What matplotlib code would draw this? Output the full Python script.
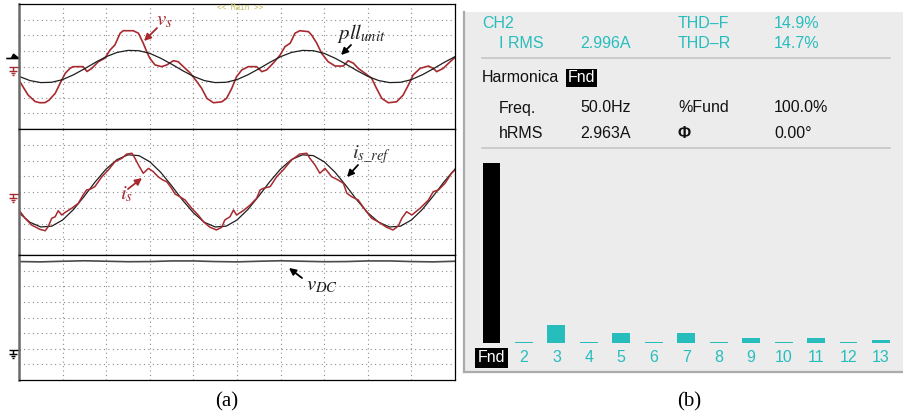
import matplotlib.pyplot as plt
import numpy as np
from matplotlib.path import Path
from matplotlib.patches import FancyArrowPatch

# ---- data: scope traces (time and amplitude in screen divisions) ----
grid_t = np.arange(0, 10.01, 0.25)
pll_unit = [-0.63, -0.90, -1.03, -1.01, -0.84, -0.53, -0.15, 0.26, 0.63, 0.90, 1.03, 1.01, 0.84, 0.53, 0.15, -0.26,
            -0.63, -0.90, -1.03, -1.01, -0.84, -0.53, -0.15, 0.26, 0.63, 0.90, 1.03, 1.01, 0.84, 0.53, 0.15, -0.26,
            -0.63, -0.90, -1.03, -1.01, -0.84, -0.53, -0.15, 0.26, 0.63]
is_ref = [-1.32, -1.92, -2.22, -2.17, -1.78, -1.11, -0.26, 0.65, 1.46, 2.06, 2.36, 2.31, 1.92, 1.25, 0.40, -0.51,
          -1.32, -1.92, -2.22, -2.17, -1.78, -1.11, -0.26, 0.65, 1.46, 2.06, 2.36, 2.31, 1.92, 1.25, 0.40, -0.51,
          -1.32, -1.92, -2.22, -2.17, -1.78, -1.11, -0.26, 0.65, 1.46]

vs_t = [0.00, 0.11, 0.21, 0.37, 0.48, 0.60, 0.69, 0.83, 0.98, 1.06,
        1.17, 1.24, 1.47, 1.56, 1.67, 1.82, 1.97, 2.09, 2.20, 2.32,
        2.39, 2.62, 2.74, 2.85, 2.93, 3.00, 3.12, 3.27, 3.39, 3.54,
        3.65, 3.77, 3.92, 4.08, 4.19, 4.31, 4.46, 4.65, 4.76, 4.88,
        4.99, 5.11, 5.26, 5.45, 5.57, 5.68, 5.83, 5.99, 6.10, 6.22,
        6.33, 6.44, 6.64, 6.71, 6.83, 6.94, 7.09, 7.25, 7.44, 7.55,
        7.67, 7.78, 7.94, 8.09, 8.20, 8.32, 8.47, 8.66, 8.81, 8.93,
        9.04, 9.20, 9.39, 9.50, 9.58, 9.73, 9.89, 10.00]
vs_v = [-0.87, -1.38, -1.83, -2.24, -2.32, -2.31, -2.15, -1.72, -0.87, -0.44,
        -0.12, -0.01, -0.01, -0.32, -0.12, 0.31, 0.53, 1.06, 1.38, 2.13,
        2.29, 2.29, 2.13, 1.49, 0.95, 0.53, 0.10, -0.01, 0.10, 0.37,
        0.31, -0.01, -0.40, -0.97, -1.40, -2.04, -2.32, -2.26, -2.04, -1.40,
        -0.65, -0.22, -0.01, -0.01, -0.33, -0.22, 0.21, 0.74, 1.27, 1.49,
        2.13, 2.29, 2.23, 2.02, 1.49, 0.85, 0.31, 0.03, 0.03, 0.37,
        0.21, -0.12, -0.44, -0.76, -1.40, -2.04, -2.32, -2.26, -1.83, -1.19,
        -0.54, -0.12, 0.03, -0.12, -0.33, -0.12, 0.31, 0.58]

is_t = [0.00, 0.14, 0.29, 0.48, 0.60, 0.67, 0.75, 0.83, 0.90, 0.98,
        1.05, 1.21, 1.36, 1.47, 1.55, 1.63, 1.74, 1.90, 2.05, 2.20,
        2.36, 2.47, 2.59, 2.66, 2.74, 2.85, 2.97, 3.08, 3.19, 3.30,
        3.39, 3.50, 3.58, 3.69, 3.81, 3.96, 4.11, 4.23, 4.38, 4.53,
        4.65, 4.72, 4.84, 4.92, 4.99, 5.14, 5.30, 5.45, 5.53, 5.60,
        5.76, 5.91, 6.06, 6.25, 6.44, 6.60, 6.67, 6.79, 6.90, 7.02,
        7.17, 7.32, 7.44, 7.52, 7.63, 7.78, 7.94, 8.09, 8.24, 8.43,
        8.58, 8.70, 8.78, 8.89, 9.01, 9.20, 9.39, 9.50, 9.62, 9.77,
        9.92, 10.00]
is_v = [-1.14, -1.67, -2.10, -2.37, -2.46, -2.20, -1.67, -1.57, -1.19, -1.46,
        -1.31, -1.03, -0.72, -0.19, 0.13, 0.17, 0.34, 0.97, 1.40, 1.92,
        2.14, 2.41, 2.46, 2.14, 1.71, 1.19, 1.50, 1.29, 0.97, 0.76,
        0.65, 0.23, -0.13, -0.30, -0.51, -1.03, -1.46, -1.89, -2.24, -2.41,
        -2.24, -1.78, -1.57, -1.14, -1.46, -1.19, -0.83, -0.40, 0.13, 0.23,
        0.34, 0.97, 1.40, 2.03, 2.41, 2.46, 2.14, 1.71, 1.19, 1.50,
        0.97, 0.76, 0.55, -0.08, -0.30, -0.51, -1.14, -1.67, -1.89, -2.24,
        -2.41, -2.16, -1.67, -1.25, -1.46, -1.03, -0.51, 0.02, 0.13, 0.55,
        1.19, 1.40]

vdc_t = np.arange(0, 10.01, 0.5)
vdc_v = [3.58, 3.56, 3.60, 3.63, 3.60, 3.57, 3.58, 3.62, 3.62, 3.58, 3.56,
         3.60, 3.63, 3.60, 3.57, 3.58, 3.62, 3.62, 3.58, 3.56, 3.60]

# ---- data: harmonic analyser ----
harm_labels = ['Fnd', '2', '3', '4', '5', '6', '7', '8', '9', '10', '11', '12', '13']
harm_pct = [100, 0.7, 10.0, 0.7, 5.7, 0.7, 5.7, 0.7, 2.6, 0.7, 2.8, 0.7, 1.7]
info_rows = [
    ['CH2', '', 'THD–F', '14.9%'],
    ['I RMS', '2.996A', 'THD–R', '14.7%'],
]
fund_rows = [
    ['Freq.', '50.0Hz', '%Fund', '100.0%'],
    ['hRMS', '2.963A', 'Φ', '0.00°'],
]

W, H = 904, 416
plt.rcParams['mathtext.fontset'] = 'stix'
fig = plt.figure(figsize=(W / 100, H / 100), dpi=100)


def fx(px):
    return px / W


def fy(py):
    return 1 - py / H


RED = '#A82A30'
TEAL = '#28BDBD'

# ---------------- (a) oscilloscope ----------------
panels = [(4, 129), (129, 255), (255, 380)]
axes = []
for top, bot in panels:
    ax = fig.add_axes([fx(19), fy(bot), fx(455) - fx(19), fy(top) - fy(bot)])
    ax.set_xlim(0, 10)
    ax.set_ylim(-4, 4)
    ax.set_xticks(np.arange(1, 10))
    ax.set_yticks(np.arange(-3, 4))
    ax.grid(True, color='#8c8c8c', linestyle=(0, (1, 3)), linewidth=0.8)
    ax.tick_params(length=0, labelbottom=False, labelleft=False)
    for s in ax.spines.values():
        s.set_linewidth(0.9)
        s.set_color('black')
    ax.spines['left'].set_color('#6a6a6a')
    ax.spines['left'].set_linewidth(1.8)
    axes.append(ax)

ax_v, ax_i, ax_dc = axes
ax_v.plot(vs_t, vs_v, color=RED, lw=1.2)
ax_v.plot(grid_t, pll_unit, color='#1e1e1e', lw=0.9)
ax_i.plot(grid_t, is_ref, color='#1e1e1e', lw=0.9)
ax_i.plot(is_t, is_v, color=RED, lw=1.1)
ax_dc.plot(vdc_t, vdc_v, color='#4a4a4a', lw=1.2)

# ground markers
gnd = Path([(-4, 0), (7, 0), (0, 0), (0, -4), (-4, -4), (4, -4), (-2.6, -6), (2.6, -6), (-1.2, -8), (1.2, -8)],
           [Path.MOVETO, Path.LINETO, Path.MOVETO, Path.LINETO, Path.MOVETO, Path.LINETO,
            Path.MOVETO, Path.LINETO, Path.MOVETO, Path.LINETO])
for ax, lvl, col in [(ax_v, 0.0, RED), (ax_i, -0.1, RED), (ax_dc, -2.1, 'black')]:
    ax.plot([-0.14], [lvl], marker=gnd, markersize=11, color=col, mew=1.0, fillstyle='none',
            linestyle='none', clip_on=False)
trig = Path([(-6, 0), (6, 0), (6, 0), (1, 4), (-1, 0)],
            [Path.MOVETO, Path.LINETO, Path.MOVETO, Path.LINETO, Path.LINETO])
ax_v.plot([-0.17], [0.52], marker=trig, markersize=9, color='black', mew=1.2, linestyle='none', clip_on=False)

fig.text(fx(240), fy(8), '<< Main >>', color='#C8C060', family='DejaVu Sans Mono', fontsize=5.5,
         ha='center', va='center')


def label(px, py, s, color, size=15):
    fig.text(fx(px), fy(py), s, color=color, fontsize=size, ha='left', va='baseline')


def arrow(x0, y0, x1, y1, color):
    fig.add_artist(FancyArrowPatch((fx(x0), fy(y0)), (fx(x1), fy(y1)), transform=fig.transFigure,
                                   arrowstyle='-|>', color=color, lw=1.3, mutation_scale=10,
                                   shrinkA=0, shrinkB=0))


label(156, 25, r'$v_s$', RED)
arrow(157, 28, 144, 41, RED)
label(337, 39, r'$pll_{unit}$', '#1e1e1e')
arrow(351, 45, 341, 55, 'black')
label(352, 158, r'$i_{s\_ref}$', '#333333')
arrow(358, 165, 347, 177, 'black')
label(120, 199, r'$i_s$', RED)
arrow(128, 189, 142, 178, RED)
label(306, 290, r'$v_{DC}$', '#1e1e1e')
arrow(302, 278, 289, 268, 'black')

fig.text(fx(227), fy(402), '(a)', family='Liberation Serif', fontsize=15, ha='center', va='center')

# ---------------- (b) harmonic analyser ----------------
ax_bg = fig.add_axes([fx(464), fy(372), fx(904) - fx(464), fy(12) - fy(372)])
ax_bg.set_facecolor('#ECECEC')
ax_bg.set_xticks([])
ax_bg.set_yticks([])
for side in ['top', 'right']:
    ax_bg.spines[side].set_visible(False)
for side in ['left', 'bottom']:
    ax_bg.spines[side].set_color('#ABABAB')
    ax_bg.spines[side].set_linewidth(1.6)

col_x = [499, 580, 678, 774]
for r, py in zip(info_rows, [23, 43]):
    for j, s in enumerate(r):
        x = 482 if s == 'CH2' else col_x[j]
        fig.text(fx(x), fy(py), s, color=TEAL, family='Liberation Sans', fontsize=11.5, ha='left', va='center')
for r, py in zip(fund_rows, [108, 134]):
    for j, s in enumerate(r):
        fig.text(fx(col_x[j]), fy(py), s, color='#111111', family='Liberation Sans', fontsize=11.5,
                 ha='left', va='center', fontweight='bold' if s == 'Φ' else 'normal')
fig.text(fx(482), fy(78), 'Harmonica', color='#111111', family='Liberation Sans', fontsize=11.5,
         ha='left', va='center')
fig.text(fx(568), fy(78), 'Fnd', color='white', family='Liberation Sans', fontsize=11.5, ha='left', va='center',
         bbox=dict(facecolor='black', edgecolor='none', boxstyle='square,pad=0.12'))
for py in [58, 148]:
    ax_bg.plot([fx(482), fx(890)], [fy(py), fy(py)], transform=fig.transFigure, color='#C6C6C6', lw=1.2)

ax_h = fig.add_axes([fx(464), fy(372), fx(904) - fx(464), fy(150) - fy(372)])
ax_h.patch.set_alpha(0)
ax_h.axis('off')
idx = np.arange(1, len(harm_pct) + 1)
bar_colors = ['black'] + [TEAL] * (len(harm_pct) - 1)
ax_h.bar(idx, harm_pct, width=0.55, color=bar_colors)
ax_h.set_xlim(0.153, 13.71)
ax_h.set_ylim(-16.1, 107.2)
for i, lab in zip(idx, harm_labels):
    if lab == 'Fnd':
        ax_h.text(i, -8.3, lab, color='white', family='Liberation Sans', fontsize=11.5, ha='center', va='center',
                  bbox=dict(facecolor='black', edgecolor='none', boxstyle='square,pad=0.15'))
    else:
        ax_h.text(i, -8.3, lab, color=TEAL, family='Liberation Sans', fontsize=11.5, ha='center', va='center')

fig.text(fx(689), fy(402), '(b)', family='Liberation Serif', fontsize=15, ha='center', va='center')

fig.savefig('out.png', dpi=100, facecolor='white')
